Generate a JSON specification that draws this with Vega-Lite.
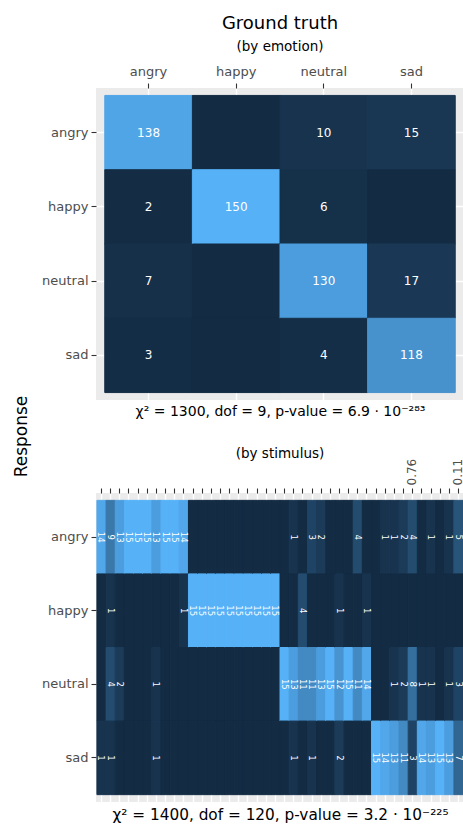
{
  "$schema": "https://vega.github.io/schema/vega-lite/v6.json",
  "padding": {"left": 12, "top": 14, "right": 0, "bottom": 0},
  "config": {
    "font": "DejaVu Sans",
    "view": {"fill": "#EBEBEB", "stroke": null},
    "axis": {
      "labelColor": "#4D4D4D",
      "labelFontSize": 13,
      "labelPadding": 3,
      "tickColor": "#333333",
      "tickSize": 5,
      "tickWidth": 1.1,
      "domain": false,
      "gridColor": "white",
      "gridWidth": 1.4,
      "titleFontWeight": "normal",
      "titleColor": "black",
      "titleFontSize": 15,
      "zindex": 0
    },
    "title": {"fontWeight": "normal", "color": "black", "subtitleColor": "black"}
  },
  "bounds": "flush",
  "spacing": 93,
  "resolve": {"scale": {"color": "independent", "stroke": "independent", "x": "independent", "y": "independent"}},
  "vconcat": [
    {
      "width": 368,
      "height": 312,
      "title": {"text": "Ground truth", "subtitle": "(by emotion)", "fontSize": 18, "subtitleFontSize": 13.5, "anchor": "middle", "offset": 12, "subtitlePadding": 7},
      "data": {"values": [
        {"truth": "angry", "angry": 138, "happy": 2, "neutral": 7, "sad": 3},
        {"truth": "happy", "angry": 0, "happy": 150, "neutral": 0, "sad": 0},
        {"truth": "neutral", "angry": 10, "happy": 6, "neutral": 130, "sad": 4},
        {"truth": "sad", "angry": 15, "happy": 0, "neutral": 17, "sad": 118}
      ]},
      "transform": [{"fold": ["angry", "happy", "neutral", "sad"], "as": ["response", "n"]}],
      "layer": [
        {
          "mark": {"type": "rect", "strokeWidth": 1},
          "encoding": {
            "x": {"field": "truth", "type": "nominal", "scale": {"paddingInner": 0, "paddingOuter": 0.1},
                  "axis": {"orient": "top", "title": null, "labelAngle": 0, "labelPadding": 5, "grid": true, "bandPosition": 0.5, "zindex": 0}},
            "y": {"field": "response", "type": "nominal", "scale": {"paddingInner": 0, "paddingOuter": 0.1},
                  "axis": {"title": "Response", "grid": true, "bandPosition": 0.5, "zindex": 0, "titleAngle": -90, "titleX": -75, "titleY": 348, "titleFontSize": 17, "titleBaseline": "middle", "titleAlign": "center"}},
            "color": {"field": "n", "type": "quantitative", "scale": {"domain": [0, 150], "range": ["#132B43", "#56B1F7"], "interpolate": "lab"}, "legend": null},
            "stroke": {"field": "n", "type": "quantitative", "scale": {"domain": [0, 150], "range": ["#132B43", "#56B1F7"], "interpolate": "lab"}, "legend": null}
          }
        },
        {
          "transform": [{"filter": "datum.n > 0"}],
          "mark": {"type": "text", "color": "white", "fontSize": 12},
          "encoding": {
            "x": {"field": "truth", "type": "nominal",
                  "axis": {"orient": "bottom", "title": "χ² = 1300, dof = 9, p-value = 6.9 · 10⁻²⁸³", "titleFontSize": 14, "labels": false, "ticks": false, "grid": false, "titlePadding": 4}},
            "y": {"field": "response", "type": "nominal"},
            "text": {"field": "n", "type": "quantitative"}
          }
        }
      ]
    },
    {
      "width": 368,
      "height": 309,
      "title": {"text": "(by stimulus)", "fontSize": 13.5, "anchor": "middle", "offset": -2},
      "data": {"values": [
        {"s": "01", "angry": 14, "happy": 0, "neutral": 0, "sad": 1},
        {"s": "02", "angry": 9, "happy": 1, "neutral": 4, "sad": 1},
        {"s": "03", "angry": 13, "happy": 0, "neutral": 2, "sad": 0},
        {"s": "04", "angry": 15, "happy": 0, "neutral": 0, "sad": 0},
        {"s": "05", "angry": 15, "happy": 0, "neutral": 0, "sad": 0},
        {"s": "06", "angry": 15, "happy": 0, "neutral": 0, "sad": 0},
        {"s": "07", "angry": 13, "happy": 0, "neutral": 1, "sad": 1},
        {"s": "08", "angry": 15, "happy": 0, "neutral": 0, "sad": 0},
        {"s": "09", "angry": 15, "happy": 0, "neutral": 0, "sad": 0},
        {"s": "10", "angry": 14, "happy": 1, "neutral": 0, "sad": 0},
        {"s": "11", "angry": 0, "happy": 15, "neutral": 0, "sad": 0},
        {"s": "12", "angry": 0, "happy": 15, "neutral": 0, "sad": 0},
        {"s": "13", "angry": 0, "happy": 15, "neutral": 0, "sad": 0},
        {"s": "14", "angry": 0, "happy": 15, "neutral": 0, "sad": 0},
        {"s": "15", "angry": 0, "happy": 15, "neutral": 0, "sad": 0},
        {"s": "16", "angry": 0, "happy": 15, "neutral": 0, "sad": 0},
        {"s": "17", "angry": 0, "happy": 15, "neutral": 0, "sad": 0},
        {"s": "18", "angry": 0, "happy": 15, "neutral": 0, "sad": 0},
        {"s": "19", "angry": 0, "happy": 15, "neutral": 0, "sad": 0},
        {"s": "20", "angry": 0, "happy": 15, "neutral": 0, "sad": 0},
        {"s": "21", "angry": 0, "happy": 0, "neutral": 15, "sad": 0},
        {"s": "22", "angry": 1, "happy": 0, "neutral": 13, "sad": 1},
        {"s": "23", "angry": 0, "happy": 4, "neutral": 11, "sad": 0},
        {"s": "24", "angry": 3, "happy": 0, "neutral": 11, "sad": 1},
        {"s": "25", "angry": 2, "happy": 0, "neutral": 13, "sad": 0},
        {"s": "26", "angry": 0, "happy": 0, "neutral": 15, "sad": 0},
        {"s": "27", "angry": 0, "happy": 1, "neutral": 12, "sad": 2},
        {"s": "28", "angry": 0, "happy": 0, "neutral": 15, "sad": 0},
        {"s": "29", "angry": 4, "happy": 0, "neutral": 11, "sad": 0},
        {"s": "30", "angry": 0, "happy": 1, "neutral": 14, "sad": 0},
        {"s": "31", "angry": 0, "happy": 0, "neutral": 0, "sad": 15},
        {"s": "32", "angry": 1, "happy": 0, "neutral": 0, "sad": 14},
        {"s": "33", "angry": 1, "happy": 0, "neutral": 1, "sad": 13},
        {"s": "34", "angry": 2, "happy": 0, "neutral": 2, "sad": 11},
        {"s": "35", "angry": 4, "happy": 0, "neutral": 8, "sad": 3},
        {"s": "36", "angry": 0, "happy": 0, "neutral": 1, "sad": 14},
        {"s": "37", "angry": 1, "happy": 0, "neutral": 1, "sad": 13},
        {"s": "38", "angry": 0, "happy": 0, "neutral": 0, "sad": 15},
        {"s": "39", "angry": 1, "happy": 0, "neutral": 1, "sad": 13},
        {"s": "40", "angry": 5, "happy": 0, "neutral": 3, "sad": 7}
      ]},
      "transform": [{"fold": ["angry", "happy", "neutral", "sad"], "as": ["response", "n"]}],
      "layer": [
        {
          "mark": {"type": "rect", "strokeWidth": 1},
          "encoding": {
            "x": {"field": "s", "type": "nominal", "scale": {"paddingInner": 0, "paddingOuter": 0.1},
                  "axis": {"orient": "top", "title": null, "labelAngle": -90, "labelFontSize": 12, "labelOffset": -1, "labelOverlap": false, "grid": true, "bandPosition": 0.5, "zindex": 0,
                           "labelExpr": "datum.value == '35' ? '0.76' : datum.value == '40' ? '0.11' : ''"}},
            "y": {"field": "response", "type": "nominal", "scale": {"paddingInner": 0, "paddingOuter": 0.1},
                  "axis": {"title": null, "grid": true, "bandPosition": 0.5, "zindex": 0}},
            "color": {"field": "n", "type": "quantitative", "scale": {"domain": [0, 15], "range": ["#132B43", "#56B1F7"], "interpolate": "lab"}, "legend": null},
            "stroke": {"field": "n", "type": "quantitative", "scale": {"domain": [0, 15], "range": ["#132B43", "#56B1F7"], "interpolate": "lab"}, "legend": null}
          }
        },
        {
          "transform": [{"filter": "datum.n > 0"}],
          "mark": {"type": "text", "color": "white", "fontSize": 8.5, "angle": 90},
          "encoding": {
            "x": {"field": "s", "type": "nominal",
                  "axis": {"orient": "bottom", "title": "χ² = 1400, dof = 120, p-value = 3.2 · 10⁻²²⁵", "titleFontSize": 15.3, "labels": false, "ticks": false, "grid": false, "titlePadding": 5}},
            "y": {"field": "response", "type": "nominal"},
            "text": {"field": "n", "type": "quantitative"}
          }
        }
      ]
    }
  ]
}
